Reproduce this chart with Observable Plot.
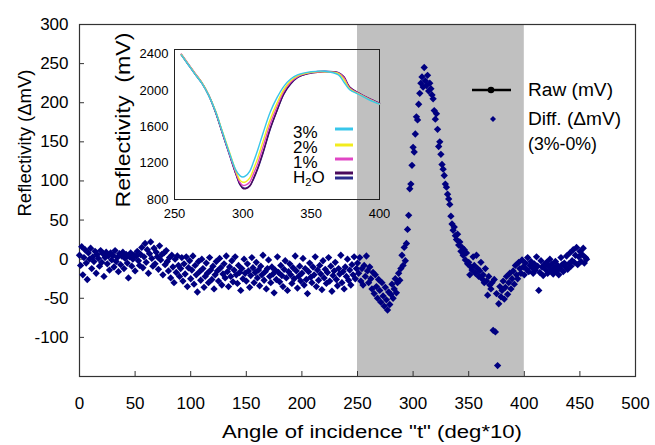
<!DOCTYPE html>
<html>
<head>
<meta charset="utf-8">
<script src="https://cdn.jsdelivr.net/npm/d3@7"></script>
<script src="https://cdn.jsdelivr.net/npm/@observablehq/plot@0.6"></script>
<style>
  html, body { margin: 0; padding: 0; background: #fff; }
  #chart { position: relative; width: 655px; height: 445px; overflow: hidden; font-family: "Liberation Sans", Arial, sans-serif; }
  #inset { position: absolute; left: 100px; top: 30px; }
</style>
</head>
<body>
<div id="chart"><div id="main"></div><div id="inset"></div></div>
<script>
// ---------- main chart data ----------
const xTicks = [0, 50, 100, 150, 200, 250, 300, 350, 400, 450, 500];
const yTicks = [-100, -50, 0, 50, 100, 150, 200, 250, 300];
const innerXTicks = [50, 100, 150, 200, 250, 300, 350, 400, 450];
const innerYTicks = [-100, -50, 0, 50, 100, 150, 200, 250];
const bandRange = [250, 400];
const diffStartAngle = 0;
// Diff. (ΔmV) (3%-0%), one value per angle step from angle 0
const diffValues = [
  5, -8, 16, -20, 2, 12, -5, -26, 8, 0,
  14, -12, 3, -3, 10, -18, 6, 1, -9, 11,
  -4, 7, -22, 2, 9, -6, 4, -14, 8, -1,
  5, -10, 11, -3, 2, -16, 7, -7, 4, 9,
  -12, 1, 6, -5, -24, 3, 8, -9, 0, 5,
  -15, 4, 10, -2, -8, 6, 15, -11, 3, 20,
  -4, 12, -18, 7, 22, 1, -9, 14, -6, 9,
  3, -13, 17, -1, 6, -20, 8, -7, 11, -3,
  -15, 2, -24, 5, -10, -30, 0, -17, 4, -8,
  -22, -12, 2, -28, -6, -19, 3, -35, -11, -2,
  -25, -14, 4, -32, -8, -20, -42, -3, -16, -27,
  0, -12, -36, -22, -5, -18, -30, 2, -14, -26,
  -9, -38, -20, -3, -15, -28, 1, -11, -33, -19,
  -6, -24, 4, -16, -35, -10, -22, -2, -29, -14,
  3, -20, -31, -8, -17, -40, -12, -25, 0, -18,
  -28, -6, -15, -36, -21, 2, -11, -30, -17, -4,
  -24, -14, -34, -9, -20, 5, -27, -16, -38, -12,
  -1, -22, -30, -10, -19, -43, -14, -26, 3, -17,
  -29, -8, -21, -35, -13, -2, -24, -40, -16, -6,
  -20, -31, -11, -25, 4, -15, -37, -22, -9, -28,
  -18, 1, -33, -12, -26, -44, -16, -5, -23, -30,
  -10, -20, 3, -35, -14, -27, -8, -19, -39, -2,
  -24, -13, -31, -17, 2, -28, -9, -41, -21, -15,
  -4, -26, -34, -12, -19, 5, -30, -16, -38, -10,
  -22, 0, -27, -14, -33, -7, -20, 3, -25, -12,
  -5, -18, 2, -28, -12, -33, -8, -22, 4, -15,
  -30, -10, -25, -38, -17, -44, -20, -35, -50, -26,
  -40, -55, -30, -47, -60, -36, -52, -65, -42, -58,
  -45, -32, -50, -38, -25, -43, -30, -18, -27, -12,
  5, -8, 15, -2, 20, 38, 56, 90, 96, 120,
  143, 137, 160, 182, 178, 198, 212, 225, 233, 220,
  245, 228, 222, 235, 215, 225, 218, 210, 205, 190,
  179, 186, 166, 144, 150, 134, 121, 115, 107, 96,
  92, 83, 77, 70, 55, 45, 37, 41, 30, 25,
  32, 18, 22, 10, 15, 5, 12, -1, 8, -6,
  -4, -20, -10, -14, 3, -8, -18, 5, -12, -22,
  -15, -4, -25, -20, -30, -12, -28, -46, -22, -33,
  -38, -30, -91, -26, -93, -44, -136, -57, -35, -48,
  -40, -28, -51, -36, -22, -45, -30, -18, -38, -25,
  -15, -32, -8, -20, -25, -4, -12, -18, -1, -10,
  -20, -5, -13, 2, -16, -8, -3, -11, -18, -6,
  -14, 3, -9, -40, -17, -2, -10, -21, -7, -13,
  -4, -18, -9, 0, -14, -6, -19, -11, -3, -15,
  -8, -20, -12, 2, -7, -16, -5, -10, 4, -13,
  -6, 8, -9, -2, 12, -4, 5, 15, -7, 3,
  10, -3, 6, 14, -5, 2, 0
];

// ---------- inset data ----------
const insetAngles = [255, 260, 265, 270, 275, 280, 285, 290, 295, 298, 300, 302, 305, 308, 311, 315, 320, 325, 330, 335, 340, 350, 360, 370, 374, 378, 385, 392, 400];
const raw3 = [2390, 2285, 2180, 2080, 1945, 1770, 1545, 1320, 1120, 1060, 1048, 1060, 1110, 1220, 1350, 1540, 1760, 1920, 2045, 2125, 2170, 2205, 2210, 2170, 2090, 2010, 1955, 1900, 1850];
const raw2 = [2395, 2290, 2185, 2085, 1950, 1775, 1550, 1330, 1110, 1010, 990, 995, 1035, 1140, 1260, 1450, 1680, 1860, 2010, 2105, 2160, 2200, 2205, 2185, 2120, 2020, 1960, 1905, 1850];
const raw1 = [2400, 2295, 2190, 2085, 1950, 1770, 1540, 1310, 1090, 985, 955, 958, 990, 1090, 1200, 1390, 1630, 1820, 1990, 2090, 2150, 2195, 2205, 2190, 2140, 2030, 1965, 1910, 1855];
const rawH2Oa = [2395, 2290, 2185, 2085, 1950, 1765, 1535, 1310, 1080, 965, 922, 918, 945, 1040, 1150, 1330, 1580, 1780, 1965, 2075, 2145, 2190, 2205, 2195, 2150, 2040, 1970, 1915, 1860];
const rawH2Ob = [2390, 2285, 2180, 2080, 1945, 1760, 1530, 1300, 1075, 960, 930, 925, 950, 1030, 1140, 1320, 1570, 1775, 1960, 2070, 2140, 2195, 2210, 2190, 2140, 2035, 1965, 1910, 1855];
const insetXTicks = [250, 300, 350, 400];
const insetYTicks = [800, 1200, 1600, 2000, 2400];
const seriesNames = ["H2O-b", "H2O-a", "1%", "2%", "3%"];
const seriesColors = ["#2b2b8c", "#4a0a5c", "#e046c4", "#f2ec1e", "#38c6ea"];

// ---------- build tables ----------
const diffData = diffValues.map((v, i) => ({angle: diffStartAngle + i, value: v}));
const seriesArrays = {"H2O-b": rawH2Ob, "H2O-a": rawH2Oa, "1%": raw1, "2%": raw2, "3%": raw3};
const insetData = seriesNames.flatMap(s => seriesArrays[s].map((v, i) => ({series: s, angle: insetAngles[i], value: v})));

const FONT = "'Liberation Sans', Arial, sans-serif";
const fmt = d => String(d);

// ---------- main plot ----------
const main = Plot.plot({
  width: 655, height: 445,
  marginLeft: 79, marginRight: 20, marginTop: 24, marginBottom: 69,
  x: {domain: [0, 500]},
  y: {domain: [-150, 300]},
  style: {fontFamily: FONT, color: "#000", background: "white"},
  marks: [
    Plot.rect([{x1: bandRange[0], x2: bandRange[1]}], {x1: "x1", x2: "x2", fill: "#c0c0c0"}),
    Plot.tickX(innerXTicks, {x: d => d, insetTop: 347, stroke: "#333", strokeWidth: 1}),
    Plot.tickY(innerYTicks, {y: d => d, insetRight: 551, stroke: "#333", strokeWidth: 1}),
    Plot.frame({stroke: "#333", strokeWidth: 1.2}),
    Plot.axisX(xTicks, {tickSize: 0, tickPadding: 20, fontSize: 17, tickFormat: fmt, label: null}),
    Plot.axisY(yTicks, {tickSize: 0, tickPadding: 11, fontSize: 17, tickFormat: fmt, label: null}),
    Plot.dot(diffData, {x: "angle", y: "value", symbol: "diamond2", r: 3.3, fill: "#000080", stroke: "none"})
  ]
});
document.getElementById("main").appendChild(main);

const ms = d3.select(main);
ms.append("text")
  .attr("x", 372).attr("y", 432)
  .attr("text-anchor", "middle").attr("dominant-baseline", "central")
  .attr("font-size", 18).attr("font-family", FONT).attr("fill", "#000")
  .attr("textLength", 300).attr("lengthAdjust", "spacingAndGlyphs")
  .text('Angle of incidence "t" (deg*10)');
ms.append("text")
  .attr("transform", "translate(25,143) rotate(-90)")
  .attr("text-anchor", "middle").attr("dominant-baseline", "central")
  .attr("font-size", 18).attr("font-family", FONT).attr("fill", "#000")
  .attr("textLength", 147).attr("lengthAdjust", "spacingAndGlyphs")
  .text("Reflectivity (ΔmV)");

// main legend
ms.append("line").attr("x1", 472).attr("x2", 511).attr("y1", 90).attr("y2", 90)
  .attr("stroke", "#000").attr("stroke-width", 2.5);
ms.append("circle").attr("cx", 491).attr("cy", 90).attr("r", 3.3).attr("fill", "#000");
ms.append("path").attr("d", "M0,-3L3,0L0,3L-3,0Z")
  .attr("transform", "translate(493,119)").attr("fill", "#000080");
const legendRows = [["Raw (mV)", 90, 85], ["Diff. (ΔmV)", 119, 93], ["(3%-0%)", 144, 69]];
legendRows.forEach(([t, y, w]) => {
  ms.append("text").attr("x", 528).attr("y", y)
    .attr("text-anchor", "start").attr("dominant-baseline", "central")
    .attr("font-size", 18).attr("font-family", FONT).attr("fill", "#000")
    .attr("textLength", w).attr("lengthAdjust", "spacingAndGlyphs")
    .text(t);
});

// ---------- inset plot ----------
const inset = Plot.plot({
  width: 290, height: 200,
  marginLeft: 74, marginRight: 11, marginTop: 19, marginBottom: 31,
  x: {domain: [250, 400]},
  y: {domain: [800, 2450]},
  color: {domain: seriesNames, range: seriesColors},
  style: {fontFamily: FONT, color: "#000", background: "transparent"},
  marks: [
    Plot.frame({stroke: "#222", strokeWidth: 1}),
    Plot.axisX(insetXTicks, {tickSize: 0, tickPadding: 9, fontSize: 13, tickFormat: fmt, label: null}),
    Plot.axisY(insetYTicks, {tickSize: 0, tickPadding: 6, fontSize: 13, tickFormat: fmt, label: null}),
    Plot.line(insetData, {x: "angle", y: "value", z: "series", stroke: "series", strokeWidth: 1.4, curve: "catmull-rom"})
  ]
});
document.getElementById("inset").appendChild(inset);

const is = d3.select(inset);
is.append("text")
  .attr("transform", "translate(23,90) rotate(-90)")
  .attr("text-anchor", "middle").attr("dominant-baseline", "central")
  .attr("font-size", 20).attr("font-family", FONT).attr("fill", "#000")
  .attr("textLength", 175).attr("lengthAdjust", "spacingAndGlyphs")
  .style("white-space", "pre")
  .text("Reflectivity  (mV)");

// inset legend
const swatches = [["3%", 99], ["2%", 115], ["1%", 129], ["H2O-a", 143], ["H2O-b", 148]];
swatches.forEach(([s, y]) => {
  is.append("line").attr("x1", 235).attr("x2", 253).attr("y1", y).attr("y2", y)
    .attr("stroke", seriesColors[seriesNames.indexOf(s)]).attr("stroke-width", 3);
});
const insetLabels = [["3%", 102], ["2%", 117], ["1%", 132]];
insetLabels.forEach(([t, y]) => {
  is.append("text").attr("x", 193).attr("y", y)
    .attr("text-anchor", "start").attr("dominant-baseline", "central")
    .attr("font-size", 17).attr("font-family", FONT).attr("fill", "#000")
    .text(t);
});
const h2o = is.append("text").attr("x", 193).attr("y", 147)
  .attr("text-anchor", "start").attr("dominant-baseline", "central")
  .attr("font-size", 17).attr("font-family", FONT).attr("fill", "#000");
h2o.append("tspan").text("H");
h2o.append("tspan").attr("font-size", 11).attr("dy", 5).text("2");
h2o.append("tspan").attr("dy", -5).text("O");
</script>
</body>
</html>
